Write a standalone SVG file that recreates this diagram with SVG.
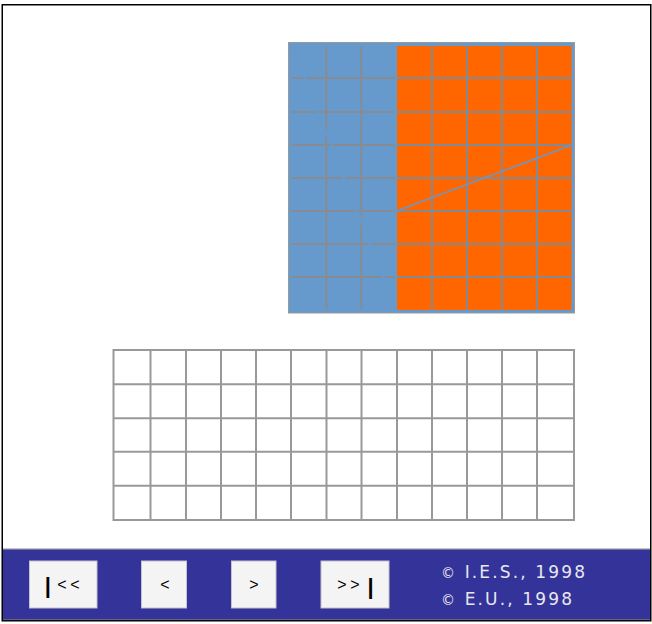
<svg xmlns="http://www.w3.org/2000/svg" width="652" height="624" viewBox="0 0 652 624">
<style>
.gl{stroke:#888c92;stroke-width:2;fill:none}
.go{stroke:#838a94;stroke-width:2;fill:none}
.gb{stroke:#999;stroke-width:2;fill:none}
.btn{fill:#f4f4f4;stroke:#c4c4cc;stroke-width:1}
.bt{font-family:"Liberation Sans",Arial,sans-serif;fill:#000;text-anchor:middle}
.cp{font-family:"DejaVu Sans","Liberation Sans",sans-serif;font-size:17px;fill:#e8e8ee}
.cs{font-size:14px}
</style>
<rect x="0" y="0" width="652" height="624" fill="#fff"/>
<rect x="2.25" y="4.75" width="648.5" height="616" fill="#fff" stroke="#000" stroke-width="1.5"/>

<g id="top-grid">
<rect x="288.5" y="42.5" width="286" height="270.5" fill="#6699cc" stroke="#999" stroke-width="1"/>
<rect x="397" y="46" width="174.5" height="264" fill="#ff6600"/>
<g id="blue-lines" class="gl">
<path d="M292 78H395M292 112H395M292 145H395M292 178H395M292 211H395M292 244H395M292 277H395"/>
<path d="M326.3 46.5V309.5M361.3 46.5V309.5"/>
</g>
<line x1="291.7" y1="46" x2="396.3" y2="310" stroke="#6699cc" stroke-width="2.8"/>
<g id="orange-lines" class="go">
<path d="M397 78H571.5M397 112H571.5M397 145H571.5M397 178H571.5M397 211H571.5M397 244H571.5M397 277H571.5"/>
<path d="M432 46V310M467 46V310M502 46V310M537 46V310"/>
</g>
<line id="slope" x1="397.3" y1="210.7" x2="571" y2="145.3" stroke="#6699cc" stroke-width="1.6"/>
</g>

<g id="bottom-grid" class="gb">
<rect x="113.5" y="350" width="460.5" height="170"/>
<path d="M150.5 350V520M186 350V520M221 350V520M256 350V520M291 350V520M326.5 350V520M361.5 350V520M397 350V520M432 350V520M467 350V520M502 350V520M537 350V520"/>
<path d="M113.5 384.3H574M113.5 418.3H574M113.5 451.7H574M113.5 485.7H574"/>
</g>

<g id="toolbar">
<rect x="3" y="549" width="647" height="71" fill="#333399"/>
<line x1="3" y1="549.2" x2="650" y2="549.2" stroke="#8a8a9a" stroke-width="1.2"/>
<line x1="3" y1="619.6" x2="650" y2="619.6" stroke="#777" stroke-width="0.8"/>
</g>

<g id="btn-first">
<rect class="btn" x="29.5" y="561" width="67.5" height="47"/>
<text class="bt"><tspan x="47.8" y="593" font-size="22" font-weight="bold">|</tspan><tspan x="62 75" y="589.5" font-size="16">&lt;&lt;</tspan></text>
</g>
<g id="btn-prev">
<rect class="btn" x="141.5" y="561" width="45" height="47"/>
<text class="bt" x="165" y="589.5" font-size="16">&lt;</text>
</g>
<g id="btn-next">
<rect class="btn" x="231.5" y="561" width="44.5" height="47"/>
<text class="bt" x="253.8" y="589.5" font-size="16">&gt;</text>
</g>
<g id="btn-last">
<rect class="btn" x="321" y="561" width="68" height="47"/>
<text class="bt"><tspan x="342 355" y="589.5" font-size="16">&gt;&gt;</tspan><tspan x="370.7" y="594" font-size="22" font-weight="bold">|</tspan></text>
</g>

<g id="copyright">
<text class="cp" x="441" y="578.3" textLength="144" lengthAdjust="spacing"><tspan class="cs">©</tspan> I.E.S., 1998</text>
<text class="cp" x="441" y="605" textLength="131" lengthAdjust="spacing"><tspan class="cs">©</tspan> E.U., 1998</text>
</g>
</svg>
